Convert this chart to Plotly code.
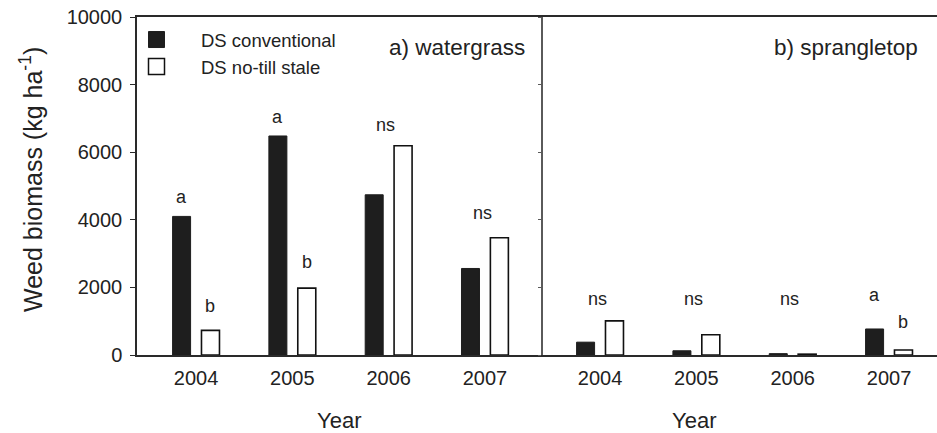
import plotly.graph_objects as go

# ---- data -------------------------------------------------------------
years = ["2004", "2005", "2006", "2007"]
series_names = ["DS conventional", "DS no-till stale"]

# weed biomass, kg ha-1
watergrass_conv = [4100, 6480, 4740, 2560]
watergrass_notill = [730, 1980, 6190, 3470]
sprangletop_conv = [380, 125, 40, 770]
sprangletop_notill = [1010, 600, 25, 150]

y_ticks = [0, 2000, 4000, 6000, 8000, 10000]
y_tick_labels = ["0", "2000", "4000", "6000", "8000", "10000"]

# significance letters: (year index, which bar: -1 conventional / +1 no-till / 0 group, letter)
watergrass_letters = [(0, -1, "a"), (0, 1, "b"), (1, -1, "a"), (1, 1, "b"), (2, 0, "ns"), (3, 0, "ns")]
sprangletop_letters = [(0, 0, "ns"), (1, 0, "ns"), (2, 0, "ns"), (3, -1, "a"), (3, 1, "b")]

# ---- styling ----------------------------------------------------------
W, H = 937, 433
FONT = "Liberation Sans, Arial, sans-serif"
INK = "#222222"
DARK_FILL = "#1e1e1e"
AXIS = "#2a2a2a"
DIVIDER = "#5a5a5a"

# plot frame in pixels
x_left, x_split, x_right = 137, 543, 937
y_top, y_bottom = 17, 355

bar_half_gap = 0.15  # centre offset of each bar from the year position

fig = go.Figure()

panels = [
    ("x", "y", watergrass_conv, watergrass_notill),
    ("x2", "y2", sprangletop_conv, sprangletop_notill),
]
for xa, ya, conv, notill in panels:
    fig.add_trace(go.Bar(
        x=years, y=conv, xaxis=xa, yaxis=ya, name=series_names[0],
        marker=dict(color=DARK_FILL, line=dict(color=DARK_FILL, width=1)),
        showlegend=False,
    ))
    fig.add_trace(go.Bar(
        x=years, y=notill, xaxis=xa, yaxis=ya, name=series_names[1],
        marker=dict(color="white", line=dict(color="#111111", width=1.6)),
        showlegend=False,
    ))

# legend entries drawn as square markers
fig.add_trace(go.Scatter(
    x=[None], y=[None], mode="markers", name=series_names[0],
    marker=dict(symbol="square", size=16, color=DARK_FILL, line=dict(color=DARK_FILL, width=1)),
))
fig.add_trace(go.Scatter(
    x=[None], y=[None], mode="markers", name=series_names[1],
    marker=dict(symbol="square", size=16, color="white", line=dict(color="#111111", width=1.5)),
))

# pixel lift of each letter above the bar it labels
water_lift = [19, 24, 19, 26, 21, 25]
sprangle_lift = [22, 36, 55, 34, 28]

annotations = []


def add_letters(letters, conv, notill, xref, yref, lifts):
    for (i, which, txt), lift in zip(letters, lifts):
        if which < 0:
            xpos, top = i - bar_half_gap, conv[i]
        elif which > 0:
            xpos, top = i + bar_half_gap, notill[i]
        else:
            xpos, top = i - 0.03, max(conv[i], notill[i])
        annotations.append(dict(
            x=xpos, y=top, xref=xref, yref=yref, text=txt, showarrow=False,
            yanchor="middle", xanchor="center", yshift=lift,
            font=dict(size=18, color=INK, family=FONT),
        ))


add_letters(watergrass_letters, watergrass_conv, watergrass_notill, "x", "y", water_lift)
add_letters(sprangletop_letters, sprangletop_conv, sprangletop_notill, "x2", "y2", sprangle_lift)

# panel labels
annotations.append(dict(x=527 / W, y=1 - 47 / H, xref="paper", yref="paper", text="a) watergrass",
                        showarrow=False, xanchor="right", yanchor="middle",
                        font=dict(size=22.5, color=INK, family=FONT)))
annotations.append(dict(x=920 / W, y=1 - 47 / H, xref="paper", yref="paper", text="b) sprangletop",
                        showarrow=False, xanchor="right", yanchor="middle",
                        font=dict(size=22.5, color=INK, family=FONT)))

# axis titles
for cx in (339, 694):
    annotations.append(dict(x=cx / W, y=1 - 420 / H, xref="paper", yref="paper", text="Year",
                            showarrow=False, xanchor="center", yanchor="middle",
                            font=dict(size=22, color=INK, family=FONT)))
annotations.append(dict(x=31 / W, y=1 - 180 / H, xref="paper", yref="paper",
                        text="Weed biomass (kg ha<sup>-1</sup>)", textangle=-90,
                        showarrow=False, xanchor="center", yanchor="middle",
                        font=dict(size=25, color=INK, family=FONT)))

ydom = [1 - y_bottom / H, 1 - y_top / H]
xdom1 = [x_left / W, x_split / W]
xdom2 = [x_split / W, x_right / W]

xcommon = dict(type="category", showline=True, linecolor=AXIS, linewidth=1.5, mirror=True,
               ticks="", showgrid=False, zeroline=False, fixedrange=True,
               tickfont=dict(size=20, color=INK, family=FONT), ticklabelstandoff=4)

fig.update_layout(
    width=W, height=H,
    margin=dict(l=0, r=0, t=0, b=0, autoexpand=False),
    paper_bgcolor="white", plot_bgcolor="white",
    barmode="group", bargap=0.4, bargroupgap=0.377,
    font=dict(family=FONT, color=INK),
    xaxis=dict(domain=xdom1, range=[-0.613, 3.603], anchor="y", **xcommon),
    xaxis2=dict(domain=xdom2, range=[-0.592, 3.498], anchor="y2", **xcommon),
    yaxis=dict(domain=ydom, range=[0, 10000], anchor="x", showline=True, linecolor=AXIS, linewidth=1.5,
               ticks="outside", ticklen=5, tickwidth=1.2, tickcolor=AXIS,
               tickvals=y_ticks, ticktext=y_tick_labels,
               showgrid=False, zeroline=False, fixedrange=True,
               tickfont=dict(size=20, color=INK, family=FONT), ticklabelstandoff=4),
    yaxis2=dict(domain=ydom, range=[0, 10000], anchor="x2", showline=True, linecolor=DIVIDER, linewidth=2,
                ticks="outside", ticklen=3, tickwidth=1, tickcolor=DIVIDER, tickvals=y_ticks,
                showticklabels=False, showgrid=False, zeroline=False, fixedrange=True),
    legend=dict(x=112 / W, y=1 - 21 / H, xanchor="left", yanchor="top", itemwidth=79,
                bgcolor="rgba(0,0,0,0)", font=dict(size=18.5, color=INK, family=FONT),
                tracegroupgap=0, itemclick=False, itemdoubleclick=False),
    annotations=annotations,
    showlegend=True,
)

fig.write_html("out.html")
